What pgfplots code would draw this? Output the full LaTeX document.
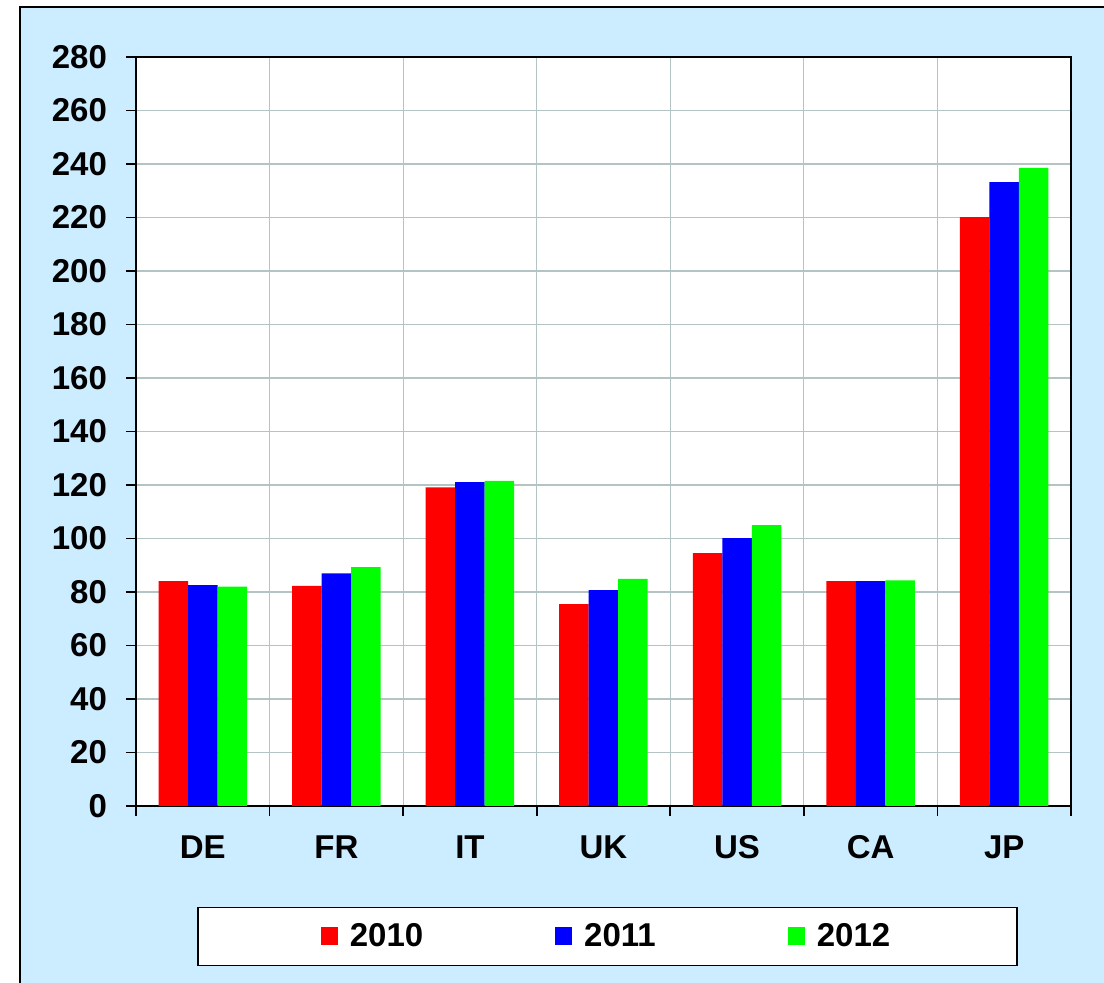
\documentclass[border=0pt]{standalone}
\usepackage{fontspec}
\setmainfont{Liberation Sans}
\usepackage{pgfplots}
\pgfplotsset{compat=1.18}
\definecolor{bgblue}{RGB}{204,236,255}
\definecolor{gridgray}{RGB}{180,195,195}
\definecolor{cred}{RGB}{255,0,0}
\definecolor{cblue}{RGB}{0,0,255}
\definecolor{cgreen}{RGB}{0,255,0}
\begin{document}
\begin{tikzpicture}
\useasboundingbox (0,0) rectangle (552pt,491.5pt);
\fill[bgblue] (10pt,0) rectangle (552pt,488pt);
\draw[line width=1pt] (10pt,0) -- (10pt,488pt) -- (552pt,488pt);
\begin{axis}[
  at={(68pt,88.5pt)}, anchor=south west,
  scale only axis, width=467.5pt, height=374.5pt,
  ybar=0pt, bar width=14.75pt,
  xmin=-0.5, xmax=6.5, ymin=0, ymax=280,
  ytick distance=20,
  xtick={-0.5,0.5,...,6.5}, xticklabels={},
  extra x ticks={0,1,2,3,4,5,6},
  extra x tick labels={DE,FR,IT,UK,US,CA,JP},
  extra x tick style={major tick length=0pt, grid=none, xticklabel style={yshift=-10.5pt, text height=12pt, text depth=0pt}},
  xmajorgrids, ymajorgrids,
  grid style={gridgray, line width=0.6pt},
  tick align=outside, major tick length=5pt,
  tick style={black, line width=0.8pt},
  xtick pos=bottom, ytick pos=left,
  axis line style={black, line width=1pt},
  axis background/.style={fill=white},
  tick label style={font=\fontsize{16.5}{19}\selectfont\bfseries},
  /pgf/number format/assume math mode=true,
  yticklabel style={xshift=-6pt},
  legend columns=3,
  legend style={at={(0.5043,-0.1742)}, anchor=center, draw=black, fill=white,
    line width=0.8pt,
    font=\fontsize{16.5}{19}\selectfont\bfseries,
    inner xsep=61.5pt, inner ysep=6pt,
    /tikz/every odd column/.append style={column sep=4pt},
    /tikz/every even column/.append style={column sep=64pt}},
  legend cell align=left,
  legend image code/.code={\fill[#1] (0pt,-4.5pt) rectangle (8.5pt,4.5pt);},
]
\addplot[fill=cred, draw=none] coordinates {(0,84.1) (1,82.3) (2,119.1) (3,75.5) (4,94.5) (5,84.1) (6,220.1)};
\addplot[fill=cblue, draw=none] coordinates {(0,82.6) (1,87.0) (2,121.1) (3,80.7) (4,100.1) (5,84.1) (6,233.2)};
\addplot[fill=cgreen, draw=none] coordinates {(0,82.0) (1,89.3) (2,121.5) (3,84.9) (4,105.0) (5,84.3) (6,238.5)};
\legend{2010,2011,2012}
\end{axis}
\end{tikzpicture}
\end{document}
